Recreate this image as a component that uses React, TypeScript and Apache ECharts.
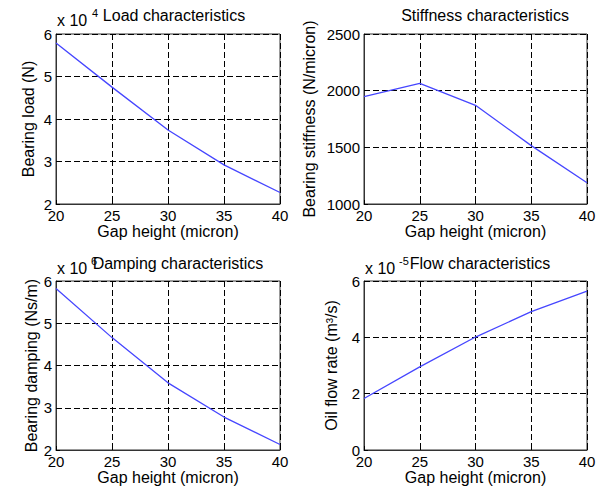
import React, { useEffect, useRef } from 'react';
import * as echarts from 'echarts';

// ---- data ----
const gapHeight = [20, 25, 30, 35, 40]; // micron
const loadValues = [5.79, 4.75, 3.74, 2.92, 2.27]; // x 10^4 N
const stiffnessValues = [1947, 2065, 1871, 1515, 1188]; // N/micron
const dampingValues = [5.82, 4.66, 3.59, 2.78, 2.13]; // x 10^6 Ns/m
const flowValues = [1.83, 2.95, 4.01, 4.91, 5.64]; // x 10^-5 m^3/s

const xRange = [20, 40, 5];
const loadRange = [2, 6, 1];
const stiffnessRange = [1000, 2500, 500];
const dampingRange = [2, 6, 1];
const flowRange = [0, 6, 2];

const titles = ['Load characteristics', 'Stiffness characteristics', 'Damping characteristics', 'Flow characteristics'];
const yNames = ['Bearing load (N)', 'Bearing stiffness (N/micron)', 'Bearing damping (Ns/m)', 'Oil flow rate (m³/s)'];
const xName = 'Gap height (micron)';

const FONT = "'Liberation Sans', Arial, Helvetica, sans-serif";

export default function App() {
  const ref = useRef<HTMLDivElement>(null);
  useEffect(() => {
    document.body.style.margin = '0';
    const chart = echarts.init(ref.current!, null, { renderer: 'svg' });

    const grids = [
      { left: 56, top: 34, width: 224, height: 170 },
      { left: 364, top: 34, width: 223, height: 170 },
      { left: 56, top: 281, width: 224, height: 169 },
      { left: 364, top: 281, width: 223, height: 169 },
    ];
    const yRanges = [loadRange, stiffnessRange, dampingRange, flowRange];
    const yGaps = [20, 47, 17, 25];
    const series = [loadValues, stiffnessValues, dampingValues, flowValues];

    const split = { show: true, lineStyle: { color: '#000', type: [6, 3] as any, width: 1 } };
    const axisLine = { show: true, onZero: false, lineStyle: { color: '#333', width: 1 } };
    const axisTick = { show: true, inside: true, length: 4, lineStyle: { color: '#000' } };
    const fmt = (v: number) => String(v);

    const option: any = {
      animation: false,
      backgroundColor: '#fff',
      grid: grids.map((g) => ({ ...g, show: true, borderColor: '#333', borderWidth: 1, backgroundColor: 'transparent' })),
      xAxis: grids.map((_, i) => ({
        type: 'value',
        gridIndex: i,
        min: xRange[0],
        max: xRange[1],
        interval: xRange[2],
        name: xName,
        nameLocation: 'middle',
        nameGap: 17,
        nameTextStyle: { fontSize: 16, color: '#000', fontFamily: FONT },
        axisLine,
        axisTick,
        axisLabel: { fontSize: 15, color: '#000', margin: 4, fontFamily: FONT, showMinLabel: true, showMaxLabel: true, formatter: fmt },
        splitLine: split,
      })),
      yAxis: grids.map((_, i) => ({
        type: 'value',
        gridIndex: i,
        min: yRanges[i][0],
        max: yRanges[i][1],
        interval: yRanges[i][2],
        name: yNames[i],
        nameLocation: 'middle',
        nameGap: yGaps[i],
        nameTextStyle: { fontSize: 16, color: '#000', fontFamily: FONT },
        axisLine,
        axisTick,
        axisLabel: { fontSize: 15, color: '#000', margin: 4, fontFamily: FONT, showMinLabel: true, showMaxLabel: true, formatter: fmt },
        splitLine: split,
      })),
      series: series.map((vals, i) => ({
        type: 'line',
        xAxisIndex: i,
        yAxisIndex: i,
        data: gapHeight.map((x, j) => [x, vals[j]]),
        showSymbol: false,
        lineStyle: { color: '#4646ff', width: 1.3 },
        z: 5,
      })),
      graphic: [
        // titles
        ...[
          [174, 15],
          [485, 15],
          [178, 263],
          [480, 263],
        ].map(([x, y], i) => ({
          type: 'text',
          x,
          y,
          style: { text: titles[i], fontSize: 16, fontFamily: FONT, fill: '#000', align: 'center', verticalAlign: 'middle' },
        })),
        // scale factors
        { type: 'text', x: 57, y: 20, style: { text: 'x 10', fontSize: 16, fontFamily: FONT, fill: '#000', verticalAlign: 'middle' } },
        { type: 'text', x: 92, y: 13, style: { text: '4', fontSize: 11, fontFamily: FONT, fill: '#000', verticalAlign: 'middle' } },
        { type: 'text', x: 57, y: 268, style: { text: 'x 10', fontSize: 16, fontFamily: FONT, fill: '#000', verticalAlign: 'middle' } },
        { type: 'text', x: 91, y: 261, style: { text: '6', fontSize: 11, fontFamily: FONT, fill: '#000', verticalAlign: 'middle' } },
        { type: 'text', x: 365, y: 268, style: { text: 'x 10', fontSize: 16, fontFamily: FONT, fill: '#000', verticalAlign: 'middle' } },
        { type: 'text', x: 399, y: 261, style: { text: '-5', fontSize: 11, fontFamily: FONT, fill: '#000', verticalAlign: 'middle' } },
      ],
    };
    chart.setOption(option);
    return () => chart.dispose();
  }, []);
  return <div ref={ref} style={{ position: 'fixed', left: 0, top: 0, width: 602, height: 498 }} />;
}
